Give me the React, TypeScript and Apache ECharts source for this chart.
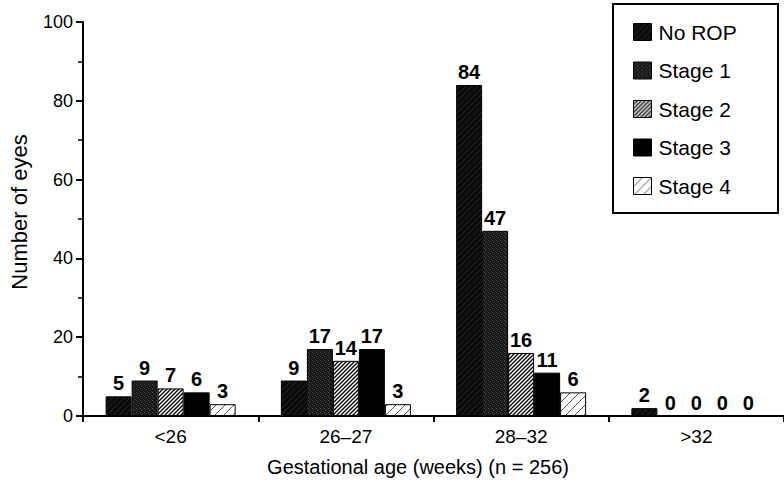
import React, { useEffect, useRef } from "react";
import * as echarts from "echarts";

const categories = ["<26", "26–27", "28–32", ">32"];
const seriesNames = ["No ROP", "Stage 1", "Stage 2", "Stage 3", "Stage 4"];
const noRop = [5, 9, 84, 2];
const stage1 = [9, 17, 47, 0];
const stage2 = [7, 14, 16, 0];
const stage3 = [6, 17, 11, 0];
const stage4 = [3, 3, 6, 0];
const yMin = 0;
const yMax = 100;
const yInterval = 20;
const xTitle = "Gestational age (weeks) (n = 256)";
const yTitle = "Number of eyes";

const FONT = "Arial, 'Liberation Sans', Helvetica, sans-serif";

function makeHatch(size: number, bg: string, line: string | null, lw: number, dots?: Array<[number, number, string]>) {
  const c = document.createElement("canvas");
  c.width = size;
  c.height = size;
  const ctx = c.getContext("2d")!;
  ctx.fillStyle = bg;
  ctx.fillRect(0, 0, size, size);
  if (line) {
    ctx.strokeStyle = line;
    ctx.lineWidth = lw;
    ctx.beginPath();
    for (const o of [-size, 0, size]) {
      ctx.moveTo(o - 1, size + 1);
      ctx.lineTo(o + size + 1, -1);
    }
    ctx.stroke();
  }
  if (dots) {
    for (const [x, y, col] of dots) {
      ctx.fillStyle = col;
      ctx.fillRect(x, y, 1, 1);
    }
  }
  return { image: c.toDataURL(), repeat: "repeat", imageWidth: size, imageHeight: size } as any;
}

export default function App() {
  const ref = useRef<HTMLDivElement>(null);
  useEffect(() => {
    if (!ref.current) return;
    const chart = echarts.init(ref.current, null, { renderer: "svg" });
    const fills = [
      makeHatch(6, "#0a0a0a", "#2a2a2a", 1),
      makeHatch(4, "#161616", null, 0, [
        [0, 0, "#555555"],
        [2, 1, "#383838"],
        [1, 2, "#4a4a4a"],
        [3, 3, "#303030"],
      ]),
      makeHatch(4, "#ffffff", "#000000", 1.3),
      "#000000",
      makeHatch(9, "#ffffff", "#555555", 1),
    ];
    const dataSets = [noRop, stage1, stage2, stage3, stage4];
    const series = seriesNames.map((name, i) => ({
      name,
      type: "bar",
      data: dataSets[i],
      barWidth: 26,
      barGap: "0%",
      itemStyle: { color: fills[i], borderColor: "#000", borderWidth: 1 },
      label: {
        show: true,
        position: "top",
        distance: 3,
        color: "#000",
        fontFamily: FONT,
        fontSize: 20,
        fontWeight: "bold",
      },
    }));
    chart.setOption({
      animation: false,
      backgroundColor: "#fff",
      grid: { left: 77, right: -5, top: 22, bottom: 65, containLabel: false },
      legend: {
        orient: "vertical",
        left: 633,
        top: 21,
        padding: 0,
        itemWidth: 18,
        itemHeight: 17,
        itemGap: 16.5,
        icon: "rect",
        data: seriesNames,
        textStyle: { color: "#000", fontFamily: FONT, fontSize: 21, lineHeight: 22, padding: [0, 0, 0, 2] },
        itemStyle: { borderColor: "#000", borderWidth: 1 },
      },
      xAxis: {
        type: "category",
        data: categories,
        axisLine: { lineStyle: { color: "#000", width: 2 } },
        axisTick: { show: true, length: 6, lineStyle: { color: "#000", width: 2 } },
        axisLabel: { color: "#000", fontFamily: FONT, fontSize: 19, margin: 11 },
      },
      yAxis: {
        type: "value",
        min: yMin,
        max: yMax,
        interval: yInterval,
        name: yTitle,
        nameLocation: "middle",
        nameGap: 53,
        nameTextStyle: { color: "#000", fontFamily: FONT, fontSize: 22, padding: [0, 0, 0, 14] },
        axisLine: { show: true, lineStyle: { color: "#000", width: 2 } },
        axisTick: { show: true, length: 7, lineStyle: { color: "#000", width: 2 } },
        minorTick: { show: true, splitNumber: 2, length: 5, lineStyle: { color: "#000", width: 1.5 } },
        splitLine: { show: false },
        axisLabel: { color: "#000", fontFamily: FONT, fontSize: 18, margin: 10 },
      },
      graphic: [
        {
          type: "rect",
          shape: { x: 613, y: 4, width: 165, height: 209 },
          style: { fill: "none", stroke: "#000", lineWidth: 2 },
          z: 0,
        },
        {
          type: "text",
          x: 418,
          y: 467,
          style: {
            text: xTitle,
            fill: "#000",
            font: `20px ${FONT}`,
            textAlign: "center",
            textVerticalAlign: "middle",
          },
        },
      ],
      series,
    });
    return () => chart.dispose();
  }, []);
  return (
    <div
      ref={ref}
      style={{ position: "absolute", left: 0, top: 0, width: 784, height: 481, background: "#fff" }}
    />
  );
}
